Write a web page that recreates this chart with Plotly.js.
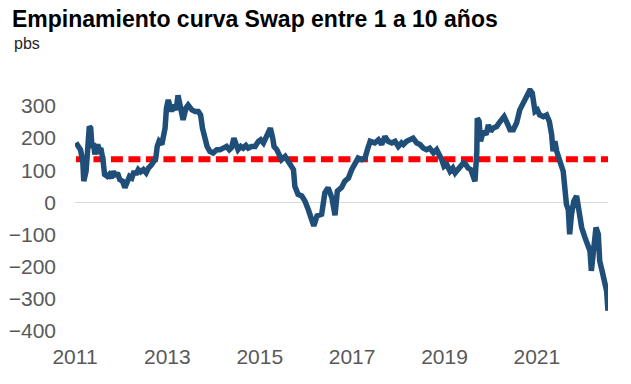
<!DOCTYPE html>
<html>
<head>
<meta charset="utf-8">
<script src="https://cdn.plot.ly/plotly-3.0.1.min.js"></script>
<style>
  html, body { margin: 0; padding: 0; background: #ffffff; }
  #chart { width: 631px; height: 384px; }
</style>
</head>
<body>
<div id="chart"></div>
<script>
// Time position (decimal years) of each traced point of the series
const fechas = [
  2011.02, 2011.07, 2011.12, 2011.17, 2011.19, 2011.24, 2011.27, 2011.31, 2011.34, 2011.37,
  2011.40, 2011.43, 2011.45, 2011.49, 2011.53, 2011.56, 2011.61, 2011.64, 2011.70, 2011.74,
  2011.79, 2011.83, 2011.87, 2011.92, 2011.97, 2012.03, 2012.08, 2012.13, 2012.18, 2012.23,
  2012.28, 2012.32, 2012.37, 2012.42, 2012.48, 2012.54, 2012.59, 2012.66, 2012.71, 2012.75,
  2012.78, 2012.82, 2012.88, 2012.91, 2012.95, 2012.98, 2013.02, 2013.06, 2013.09, 2013.13,
  2013.19, 2013.23, 2013.27, 2013.31, 2013.34, 2013.40, 2013.45, 2013.53, 2013.60, 2013.67,
  2013.72, 2013.76, 2013.81, 2013.86, 2013.92, 2013.99, 2014.07, 2014.14, 2014.21, 2014.28,
  2014.34, 2014.39, 2014.44, 2014.48, 2014.53, 2014.59, 2014.64, 2014.70, 2014.75, 2014.82,
  2014.90, 2014.97, 2015.02, 2015.08, 2015.13, 2015.18, 2015.23, 2015.28, 2015.31, 2015.37,
  2015.42, 2015.47, 2015.55, 2015.60, 2015.65, 2015.73, 2015.76, 2015.83, 2015.91, 2015.98,
  2016.05, 2016.10, 2016.17, 2016.24, 2016.34, 2016.41, 2016.48, 2016.56, 2016.63, 2016.68,
  2016.77, 2016.84, 2016.92, 2016.99, 2017.06, 2017.13, 2017.21, 2017.28, 2017.33, 2017.39,
  2017.49, 2017.57, 2017.64, 2017.71, 2017.78, 2017.86, 2017.93, 2018.00, 2018.07, 2018.11,
  2018.18, 2018.25, 2018.32, 2018.40, 2018.47, 2018.54, 2018.61, 2018.68, 2018.76, 2018.83,
  2018.89, 2018.94, 2018.99, 2019.05, 2019.12, 2019.18, 2019.23, 2019.28, 2019.33, 2019.41,
  2019.46, 2019.51, 2019.57, 2019.61, 2019.66, 2019.70, 2019.71, 2019.75, 2019.78, 2019.84,
  2019.90, 2019.95, 2020.00, 2020.05, 2020.13, 2020.18, 2020.24, 2020.29, 2020.34, 2020.42,
  2020.49, 2020.56, 2020.63, 2020.69, 2020.74, 2020.81, 2020.85, 2020.90, 2020.96, 2021.01,
  2021.06, 2021.14, 2021.21, 2021.27, 2021.32, 2021.35, 2021.39, 2021.43, 2021.46, 2021.51,
  2021.57, 2021.61, 2021.64, 2021.68, 2021.71, 2021.75, 2021.80, 2021.86, 2021.92, 2021.97,
  2022.04, 2022.09, 2022.15, 2022.18, 2022.23, 2022.28, 2022.33, 2022.36, 2022.42, 2022.47,
  2022.51, 2022.54
];

// Spread 10y - 1y swap, in basis points
const empinamiento = [
  186, 174, 164, 124, 66, 97, 164, 236, 231, 169,
  185, 149, 164, 180, 164, 169, 128, 87, 81, 87,
  76, 97, 81, 92, 71, 66, 46, 66, 81, 76,
  97, 87, 102, 95, 102, 92, 107, 118, 133, 138,
  174, 190, 180, 200, 231, 293, 319, 298, 283, 303,
  288, 333, 300, 272, 257, 293, 303, 288, 283, 283,
  272, 231, 195, 174, 159, 154, 164, 164, 169, 174,
  164, 171, 200, 180, 164, 174, 169, 177, 169, 174,
  174, 190, 195, 185, 200, 221, 231, 200, 174, 164,
  143, 133, 143, 133, 124, 102, 50, 25, 20, 4,
  -22, -42, -73, -42, -37, 30, 46, 15, -40, 35,
  46, 66, 76, 102, 123, 138, 133, 138, 164, 190,
  185, 195, 180, 205, 190, 185, 190, 174, 185, 180,
  190, 195, 200, 185, 180, 169, 164, 169, 154, 164,
  149, 133, 112, 118, 97, 107, 92, 102, 112, 123,
  118, 107, 102, 87, 66, 159, 262, 252, 190, 221,
  211, 241, 221, 231, 236, 247, 262, 267, 252, 226,
  226, 247, 288, 303, 319, 334, 350, 340, 283, 288,
  272, 267, 272, 252, 211, 159, 190, 159, 138, 123,
  97, 25, -6, -22, -99, -37, 4, 20, -27, -78,
  -109, -135, -151, -213, -151, -78, -99, -182, -218, -244,
  -275, -337
];

// Average level of the spread (red dashed reference)
const promedio = 134;

// Axis ticks
const xTickVals = [2011, 2013, 2015, 2017, 2019, 2021];
const xTickText = ["2011", "2013", "2015", "2017", "2019", "2021"];
const yTickVals = [-400, -300, -200, -100, 0, 100, 200, 300];

const firstX = fechas[0];
const lastX = fechas[fechas.length - 1];

const traces = [
  {
    x: [firstX, lastX],
    y: [promedio, promedio],
    type: "scatter",
    mode: "lines",
    line: { color: "#FF0000", width: 6, dash: "12px,5.5px" },
    hoverinfo: "skip",
    showlegend: false
  },
  {
    x: fechas,
    y: empinamiento,
    type: "scatter",
    mode: "lines",
    line: { color: "#1F4E79", width: 5.5, shape: "linear" },
    showlegend: false
  }
];

const tickFont = { family: "Liberation Sans, Arial, sans-serif", size: 21, color: "#595959" };

const layout = {
  width: 631,
  height: 384,
  margin: { l: 75, r: 23, t: 88, b: 53 },
  paper_bgcolor: "#ffffff",
  plot_bgcolor: "#ffffff",
  showlegend: false,
  title: {
    text: "<b>Empinamiento curva Swap entre 1 a 10 años</b>",
    font: { family: "Liberation Sans, Arial, sans-serif", size: 23, color: "#000000" },
    xref: "container",
    yref: "container",
    x: 12 / 631,
    xanchor: "left",
    y: 1 - 19 / 384,
    yanchor: "middle"
  },
  annotations: [
    {
      text: "pbs",
      xref: "paper",
      yref: "paper",
      x: (12 - 75) / 533,
      y: (331 - 44) / 243,
      xanchor: "left",
      yanchor: "middle",
      showarrow: false,
      font: { family: "Liberation Sans, Arial, sans-serif", size: 16, color: "#262626" }
    }
  ],
  xaxis: {
    type: "linear",
    range: [2011, 2022.54],
    tickmode: "array",
    tickvals: xTickVals,
    ticktext: xTickText,
    showgrid: false,
    zeroline: false,
    showline: false,
    ticks: "",
    tickfont: tickFont,
    ticklabelstandoff: 11,
    fixedrange: true
  },
  yaxis: {
    range: [-400, 356],
    tickmode: "array",
    tickvals: yTickVals,
    showgrid: false,
    zeroline: true,
    zerolinecolor: "#D9D9D9",
    zerolinewidth: 1,
    showline: false,
    ticks: "",
    tickfont: tickFont,
    ticklabelstandoff: 18,
    fixedrange: true
  }
};

Plotly.newPlot("chart", traces, layout, { displayModeBar: false, staticPlot: true });
</script>
</body>
</html>
